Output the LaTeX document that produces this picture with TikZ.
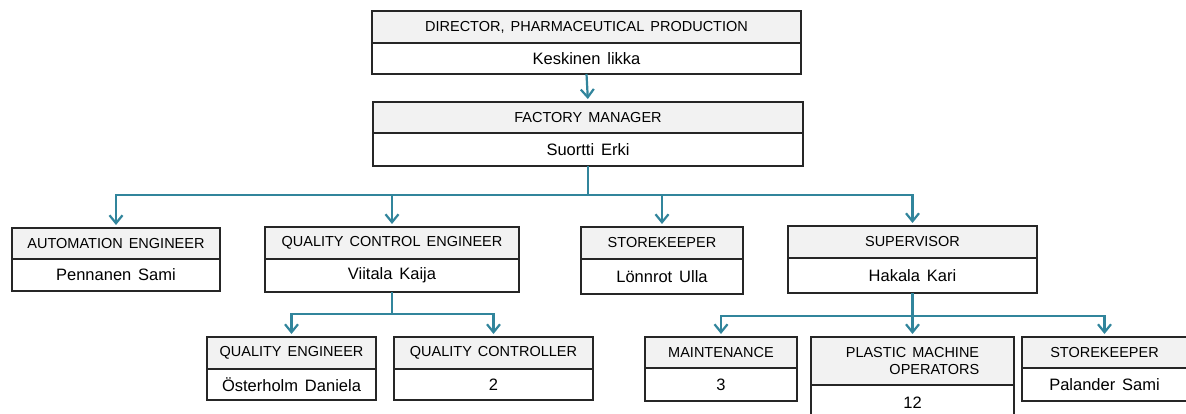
\documentclass[tikz,border=0pt]{standalone}
\usepackage{fontspec}
\setmainfont{Liberation Sans}[WordSpace=1.5]
\usetikzlibrary{arrows.meta}

\definecolor{linkblue}{HTML}{31859C}
\definecolor{headgray}{HTML}{F2F2F2}
\definecolor{boxedge}{HTML}{262626}

\tikzset{
  cell/.style={draw=boxedge, line width=1.3pt, rectangle, inner sep=0pt, outer sep=0pt, text=black},
  headcell/.style={cell, fill=headgray, font=\fontsize{14.5}{17}\selectfont},
  bodycell/.style={cell, fill=white, font=\fontsize{16.5}{19}\selectfont},
  trunk/.style={draw=linkblue, line width=2.2pt},
  link/.style={trunk, shorten >=3pt, -{Straight Barb[length=8pt,width=13pt,line width=2.2pt]}},
}

% #1 name, #2 left, #3 top, #4 divider, #5 right, #6 bottom, #7 title, #8 holder
\newcommand\orgunit[8]{%
  \node[headcell, minimum width={#5-#2}, minimum height={#4-#3}, anchor=north west] (#1-h) at (#2,#3) {#7};
  \node[bodycell, minimum width={#5-#2}, minimum height={#6-#4}, anchor=north west] (#1) at (#2,#4) {#8};
}

\begin{document}
\begin{tikzpicture}[x=1pt,y=-1pt]
  \path[fill=white, use as bounding box] (0,0) rectangle (1186,414);

  % top of the chain
  \orgunit{dir}{372}{11}{43}{801}{74}{DIRECTOR, PHARMACEUTICAL PRODUCTION}{Keskinen likka}
  \orgunit{fac}{373}{102}{133}{803}{166}{FACTORY MANAGER}{Suortti Erki}

  % second level
  \orgunit{auto}{12}{228}{259}{220}{291}{AUTOMATION ENGINEER}{Pennanen Sami}
  \orgunit{qce}{265}{227}{259}{519}{292}{QUALITY CONTROL ENGINEER}{Viitala Kaija}
  \orgunit{store}{581}{227}{259}{743}{294}{STOREKEEPER}{Lönnrot Ulla}
  \orgunit{sup}{788}{226}{258}{1037}{293}{SUPERVISOR}{Hakala Kari}

  % third level, quality
  \orgunit{qe}{207}{337}{369}{376}{400}{QUALITY ENGINEER}{Österholm Daniela}
  \orgunit{qc}{394}{337}{369}{593}{400}{QUALITY CONTROLLER}{2}

  % third level, production
  \orgunit{mnt}{645}{337}{368}{797}{401}{MAINTENANCE}{3}
  \node[headcell, align=right, minimum width=203, minimum height=48, anchor=north west]
    (pmo-h) at (811,337) {PLASTIC MACHINE\\OPERATORS};
  \node[bodycell, minimum width=203, minimum height=36, anchor=north west]
    (pmo) at (811,385) {12};
  \orgunit{sk}{1022}{337}{368}{1187}{401}{STOREKEEPER}{Palander Sami}

  % reporting lines
  \draw[link] (dir.south) -- (fac-h.north);

  \path (fac.south) ++(0,29) coordinate (j1);
  \draw[trunk] (fac.south) -- (j1);
  \foreach \n in {auto,qce,store,sup} \draw[link] (j1) -| (\n-h.north);

  \path (qce.south) ++(0,22) coordinate (j2);
  \draw[trunk] (qce.south) -- (j2);
  \foreach \n in {qe,qc} \draw[link] (j2) -| (\n-h.north);

  \path (sup.south) ++(0,23) coordinate (j3);
  \draw[trunk] (sup.south) -- (j3);
  \foreach \n in {mnt,pmo,sk} \draw[link] (j3) -| (\n-h.north);
\end{tikzpicture}
\end{document}
